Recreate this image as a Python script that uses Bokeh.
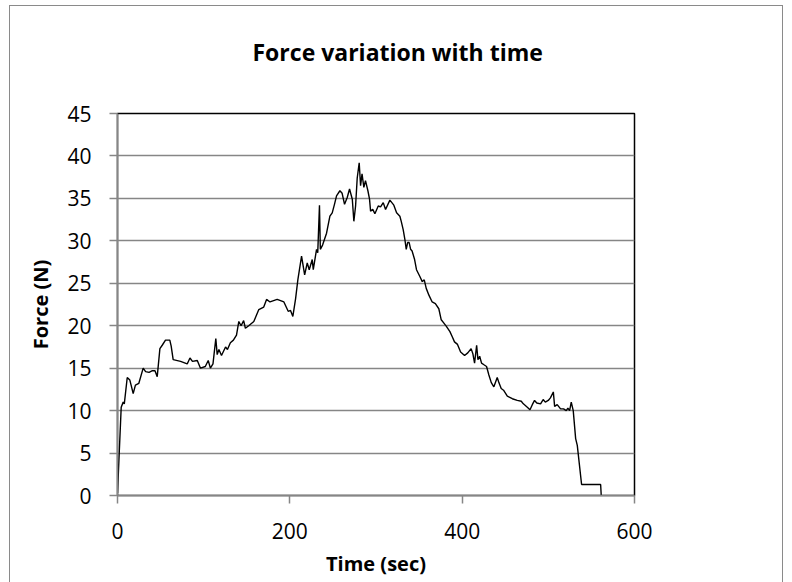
from bokeh.plotting import figure
from bokeh.models import FixedTicker, Title
from bokeh.embed import file_html
from bokeh.resources import INLINE

# Time (sec) and Force (N)
time_s = [0.0, 4.3, 6.6, 7.9, 11.3, 14.3, 15.8, 18.2, 20.8, 24.7, 29.8, 32.6, 36.6, 40.5, 43.5, 46.1,
          49.2, 51.9, 55.7, 60.7, 62.3, 64.6, 73.2, 80.9, 84.1, 87.0, 92.6, 96.3, 101.9, 105.3, 107.8,
          110.8, 114.1, 115.7, 117.7, 120.7, 125.4, 127.6, 131.0, 134.5, 138.1, 140.8, 143.4, 146.4,
          148.4, 152.3, 158.2, 164.0, 169.7, 173.0, 177.0, 185.3, 193.1, 198.1, 200.8, 203.5, 206.7,
          209.3, 213.6, 217.2, 220.2, 222.5, 226.0, 227.2, 231.0, 232.4, 234.4, 235.4, 238.0, 242.6,
          246.5, 249.2, 251.8, 254.2, 258.1, 260.7, 263.5, 266.6, 269.3, 272.5, 274.3, 276.3, 278.2,
          280.5, 282.1, 283.8, 285.9, 287.8, 290.6, 292.5, 293.7, 296.2, 298.7, 302.6, 305.3, 308.4,
          311.1, 316.1, 320.7, 323.9, 327.7, 329.3, 331.6, 333.6, 335.1, 336.7, 338.5, 340.2, 341.9,
          344.8, 347.0, 350.9, 353.7, 356.0, 358.3, 361.4, 365.2, 368.9, 372.9, 375.7, 378.8, 381.9,
          385.8, 388.5, 391.1, 394.6, 398.2, 402.8, 406.5, 410.4, 412.4, 414.4, 416.8, 418.3, 420.3,
          422.5, 425.3, 428.3, 431.0, 433.8, 436.8, 440.7, 442.6, 445.3, 448.0, 452.4, 458.2, 463.9,
          468.6, 471.0, 475.6, 478.7, 481.4, 484.0, 486.6, 491.0, 494.0, 496.5, 499.9, 502.4, 505.8,
          507.3, 510.3, 514.2, 517.7, 520.8, 522.7, 524.7, 526.6, 528.9, 531.7, 533.6, 538.6, 560.7,
          561.4]
force_n = [0.3, 10.4, 11.0, 10.8, 13.9, 13.6, 13.0, 12.0, 13.0, 13.2, 15.0, 14.6, 14.5, 14.7, 14.7, 14.0,
           17.3, 17.7, 18.3, 18.3, 17.6, 16.0, 15.8, 15.5, 16.2, 15.8, 15.9, 15.0, 15.2, 15.9, 15.0,
           15.5, 18.5, 16.6, 17.2, 16.5, 17.5, 17.2, 18.0, 18.3, 18.9, 20.5, 20.0, 20.6,
           19.7, 20.0, 20.5, 21.9, 22.2, 23.1, 22.8, 23.1, 22.8, 21.7, 21.8, 21.1, 23.2,
           25.4, 28.2, 26.0, 27.4, 26.6, 27.8, 26.6, 29.0, 28.6, 34.2, 29.0, 29.5, 30.9,
           32.9, 33.3, 34.3, 35.3, 35.9, 35.6, 34.3, 35.1, 36.1, 34.9, 32.3, 34.1, 37.4,
           39.2, 36.5, 37.9, 36.3, 37.1, 35.9, 34.9, 33.5, 33.7, 33.2, 34.1, 34.0, 34.5,
           33.7, 34.8, 34.2, 33.3, 32.9, 32.3, 31.3, 30.1, 29.0, 29.8, 29.8, 29.0, 28.8,
           27.8, 26.6, 25.8, 25.2, 25.4, 24.4, 23.6, 22.8, 22.6, 22.0, 20.7, 20.3, 19.9,
           19.3, 18.7, 18.1, 17.8, 16.9, 16.5, 16.8, 17.3, 16.7, 15.6, 17.7, 16.0, 16.4,
           15.6, 15.4, 15.2, 14.2, 13.3, 12.8, 13.9, 13.3, 12.6, 12.4, 11.7, 11.4, 11.2,
           11.1, 10.8, 10.4, 10.1, 10.7, 11.2, 10.9, 10.8, 11.3, 11.0, 11.2, 11.5, 12.2,
           10.5, 10.7, 10.2, 10.2, 10.0, 10.3, 10.0, 11.0, 10.0, 6.7, 5.9, 1.3, 1.3,
           0.0]

x_ticks = [0, 200, 400, 600]
y_ticks = [0, 5, 10, 15, 20, 25, 30, 35, 40, 45]

title_text = "Force variation with time"
x_label = "Time (sec)"
y_label = "Force (N)"

FONT = "Open Sans"
GRAY = "#868686"

p = figure(width=774, height=578, x_range=(0, 600), y_range=(0, 45),
           output_backend="svg", toolbar_location=None,
           min_border_left=107, min_border_right=150, min_border_top=107, min_border_bottom=89)
p.styles = {"margin-left": "9px", "margin-top": "5px", "border": "1px solid #8a8a8a"}

p.title.text = title_text
p.title.align = "left"
p.title.offset = 135
p.title.text_font = FONT
p.title.text_font_size = "23px"
p.title.text_font_style = "bold"
p.title.text_color = "black"
p.title.standoff = 0

# empty spacer between the title and the plot area
spacer = Title(text=" ", text_font_size="10px", standoff=33)
p.add_layout(spacer, "above")

p.line(time_s, force_n, line_color="black", line_width=1.4)

p.xaxis.ticker = FixedTicker(ticks=x_ticks)
p.yaxis.ticker = FixedTicker(ticks=y_ticks)
for ax in (p.xaxis[0], p.yaxis[0]):
    ax.axis_line_color = GRAY
    ax.axis_line_width = 1.5
    ax.major_tick_line_color = GRAY
    ax.major_tick_line_width = 1.5
    ax.major_tick_out = 8
    ax.major_tick_in = 0
    ax.minor_tick_line_color = None
    ax.major_label_text_font = FONT
    ax.major_label_text_font_size = "21px"
    ax.major_label_text_color = "black"
    ax.axis_label_text_font = FONT
    ax.axis_label_text_font_size = "20px"
    ax.axis_label_text_font_style = "bold"
    ax.axis_label_text_color = "black"

p.xaxis.axis_label = x_label
p.yaxis.axis_label = y_label
p.xaxis.major_label_standoff = 19
p.yaxis.major_label_standoff = 18
p.xaxis.axis_label_standoff = 8
p.yaxis.axis_label_standoff = 10

p.xgrid.grid_line_color = None
p.ygrid.grid_line_color = GRAY
p.ygrid.grid_line_width = 1.5

p.outline_line_color = "black"
p.outline_line_width = 1.5

p.background_fill_color = "white"
p.border_fill_color = "white"

open("out.html", "w").write(file_html(p, INLINE))
